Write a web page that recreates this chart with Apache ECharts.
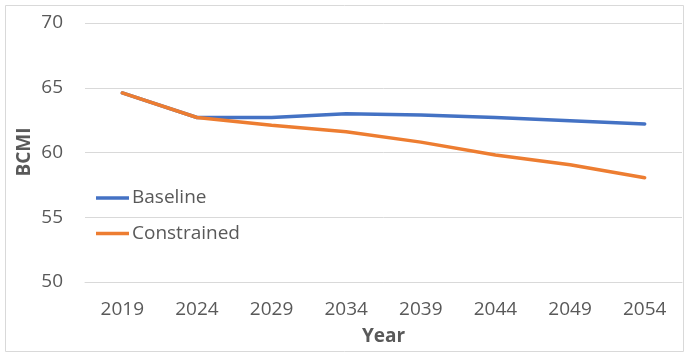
<!DOCTYPE html>
<html>
<head>
<meta charset="utf-8">
<script src="https://cdn.jsdelivr.net/npm/echarts@6/dist/echarts.min.js"></script>
<style>
  html, body { margin: 0; padding: 0; background: #fff; }
  #chart { width: 686px; height: 356px; }
</style>
</head>
<body>
<div id="chart"></div>
<script>
// values
var years = ["2019", "2024", "2029", "2034", "2039", "2044", "2049", "2054"];
var baseline = [64.6, 62.7, 62.7, 63.0, 62.9, 62.7, 62.45, 62.2];
var constrained = [64.6, 62.7, 62.1, 61.6, 60.8, 59.8, 59.05, 58.05];

var font = "Open Sans";
var textGray = "#595959";

var chart = echarts.init(document.getElementById("chart"));

chart.setOption({
  animation: false,
  backgroundColor: "#fff",
  color: ["#4472C4", "#ED7D31"],
  graphic: [
    {
      type: "rect",
      shape: { x: 5.5, y: 5.5, width: 678, height: 346 },
      style: { fill: "none", stroke: "#d9d9d9", lineWidth: 1 },
      silent: true
    },
    {
      // y axis title, placed by hand (axis name gets pushed by the labels)
      type: "text",
      x: 25,
      y: 152,
      rotation: Math.PI / 2,
      style: {
        text: "BCMI",
        font: "bold 19px 'Open Sans'",
        fill: textGray,
        align: "center",
        verticalAlign: "middle"
      },
      silent: true
    }
  ],
  grid: { left: 85, right: 4, top: 23, bottom: 74 },
  legend: {
    orient: "vertical",
    left: 91,
    top: 182,
    icon: "rect",
    itemWidth: 33,
    itemHeight: 3.5,
    itemGap: 13.5,
    textStyle: { fontFamily: font, fontSize: 19, color: textGray, lineHeight: 22, padding: [0, 0, 0, -2] },
    data: ["Baseline", "Constrained"]
  },
  xAxis: {
    type: "category",
    data: years,
    name: "Year",
    nameLocation: "middle",
    nameGap: 45,
    nameTextStyle: { fontFamily: font, fontSize: 19, fontWeight: "bold", color: textGray },
    axisLine: { lineStyle: { color: "#d9d9d9", width: 1 } },
    axisTick: { show: false },
    axisLabel: { fontFamily: font, fontSize: 19, color: textGray, margin: 18 }
  },
  yAxis: {
    type: "value",
    min: 50,
    max: 70,
    interval: 5,
    axisLine: { show: false },
    axisTick: { show: false },
    splitLine: { lineStyle: { color: "#d9d9d9", width: 1 } },
    axisLabel: { fontFamily: font, fontSize: 19, color: textGray, margin: 22 }
  },
  series: [
    {
      name: "Baseline",
      type: "line",
      data: baseline,
      symbol: "none",
      lineStyle: { width: 3.5, cap: "round" }
    },
    {
      name: "Constrained",
      type: "line",
      data: constrained,
      symbol: "none",
      lineStyle: { width: 3.5, cap: "round" }
    }
  ]
});
</script>
</body>
</html>
